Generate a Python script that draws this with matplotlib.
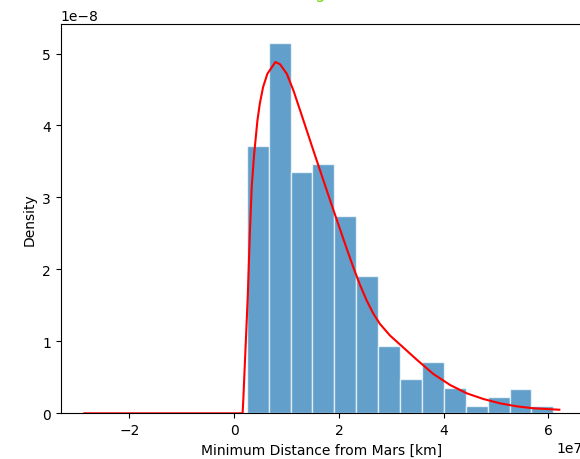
import numpy as np
import matplotlib.pyplot as plt

# histogram (x in 1e7 km, density in 1e-8)
bin_edges = [0.242, 0.660, 1.078, 1.496, 1.914, 2.332, 2.750, 3.168,
             3.586, 4.004, 4.422, 4.840, 5.258, 5.676, 6.094]
bar_heights = [3.71, 5.15, 3.35, 3.46, 2.74, 1.91, 0.94, 0.48,
               0.71, 0.35, 0.106, 0.23, 0.34, 0.106]

# fitted curve
curve_x = [-2.86, 0.162, 0.176, 0.261, 0.300, 0.336, 0.382, 0.445, 0.490,
           0.553, 0.635, 0.744, 0.788, 0.878, 1.006, 1.132, 1.260, 1.387,
           1.513, 1.641, 1.769, 1.865, 2.023, 2.151, 2.277, 2.405, 2.532,
           2.658, 2.786, 2.977, 3.168, 3.487, 3.803, 4.122, 4.441, 4.758,
           5.076, 5.395, 5.712, 6.208]
curve_y = [0.0, 0.0, 0.199, 1.636, 2.50, 3.15, 3.60, 4.070, 4.302,
           4.534, 4.719, 4.835, 4.882, 4.850, 4.718, 4.487, 4.209, 3.930,
           3.652, 3.374, 3.096, 2.890, 2.555, 2.285, 2.025, 1.780, 1.565,
           1.385, 1.240, 1.080, 0.955, 0.745, 0.547, 0.394, 0.278, 0.199,
           0.139, 0.097, 0.070, 0.050]

edges = np.array(bin_edges) * 1e7
heights = np.array(bar_heights) * 1e-8

fig = plt.figure(figsize=(5.8, 4.6), dpi=100)
ax = fig.add_axes([0.1047, 0.0993, 0.9005, 0.8463])

ax.bar(edges[:-1], heights, width=np.diff(edges), align='edge',
       color='C0', alpha=0.7, edgecolor='white')
ax.plot(np.array(curve_x) * 1e7, np.array(curve_y) * 1e-8, color='red', lw=1.5)

ax.set_xlim(-3.31e7, 6.66e7)
ax.set_ylim(0, 5.41e-8)
ax.set_xlabel('Minimum Distance from Mars [km]')
ax.set_ylabel('Density')
# title sits mostly above the figure edge, as in the reference
ax.set_title('Log fit', color='#7ad81c', pad=19.5)

fig.savefig('out.png', dpi=100)
